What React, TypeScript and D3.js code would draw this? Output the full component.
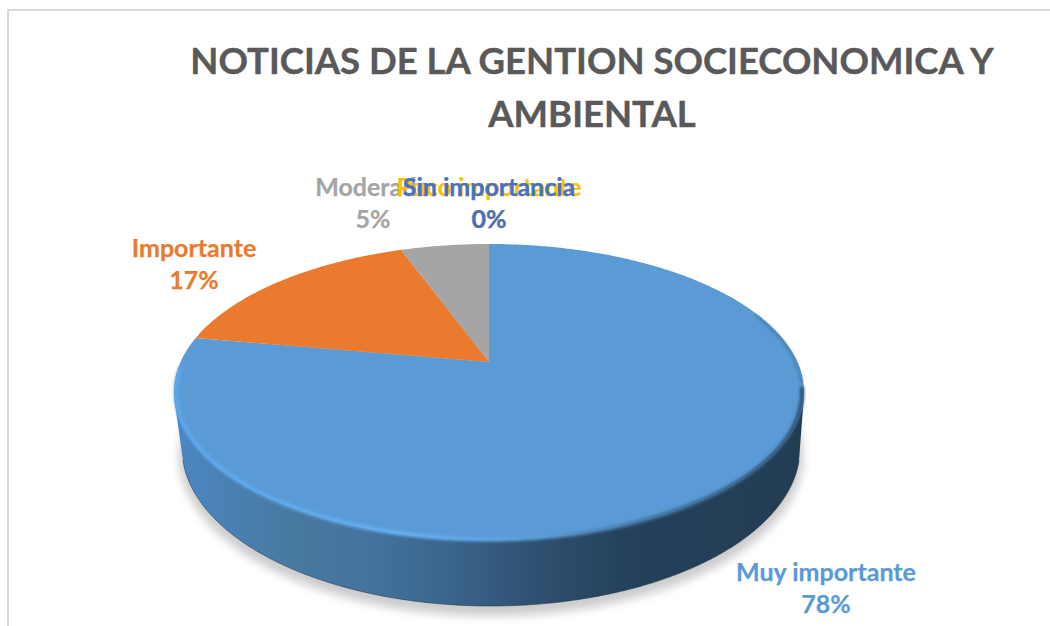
import React from "react";
import * as d3 from "d3";

const categories = ["Muy importante", "Importante", "Moderado", "Poco importante", "Sin importancia"];
const sliceValues = [77.8, 16.7, 5.5, 0, 0];
const percentLabels = ["78%", "17%", "5%", "0%", "0%"];
const sliceColors = ["#5b9bd5", "#ea7b2e", "#a5a5a5", "#ffc000", "#4472c4"];
const titleLines = ["NOTICIAS DE LA GENTION SOCIECONOMICA Y", "AMBIENTAL"];

const W = 1050;
const H = 626;
const FONT = "Lato, 'Open Sans', sans-serif";

// Layout of the tilted disc
const CX = 489;
const TOP_CY = 392;
const TOP_RY = 148;
const APEX_DY = -30;
const PERSPECTIVE = -0.2027;
const X_SCALE = 308.5;
const LOW_CX = 491;
const LOW_CY = 448;
const LOW_RX = 309;
const LOW_RY = 158;

// Label anchor per category (same order as categories)
const labelX = [826, 194, 373, 489, 489];
const labelY = [581, 257, 196, 196, 196];

// Perspective projection of the unit circle (theta clockwise from 12 o'clock)
const project = (theta: number, r = 1): [number, number] => {
  const X = r * Math.sin(theta);
  const Y = -r * Math.cos(theta);
  const d = 1 + PERSPECTIVE * Y;
  return [CX + (X_SCALE * X) / d, TOP_CY + (TOP_RY * Y + APEX_DY) / d];
};

const line = d3.line<[number, number]>().x((p) => p[0]).y((p) => p[1]);

const sample = (a0: number, a1: number, fn: (t: number) => [number, number]) => {
  const n = Math.max(2, Math.ceil(Math.abs(a1 - a0) / 0.01));
  return d3.range(n + 1).map((i) => fn(a0 + ((a1 - a0) * i) / n));
};

const pieGen = d3.pie<number>().sort(null).value((d) => d);
const arcs = pieGen(sliceValues);

const wedgePath = (a0: number, a1: number) =>
  line([project(0, 0), ...sample(a0, a1, (t) => project(t))])! + "Z";

const topEllipse = (t: number): [number, number] => [
  CX + 315 * Math.sin(t),
  TOP_CY - TOP_RY * Math.cos(t),
];
const lowEllipse = (t: number): [number, number] => [
  LOW_CX + LOW_RX * Math.sin(t),
  LOW_CY - LOW_RY * Math.cos(t),
];
const insetEllipse = (t: number): [number, number] => [
  CX + 313 * Math.sin(t),
  TOP_CY + 0.5 - 147 * Math.cos(t),
];

const PI = Math.PI;
const lowerArc = sample(PI / 2 + 0.08, (3 * PI) / 2 - 0.08, lowEllipse);
const sidePath = line([topEllipse(PI / 2 + 0.05), ...lowerArc, topEllipse((3 * PI) / 2 - 0.05)])! + "Z";
const bottomEdge = line(lowerArc)!;
const shadowPath =
  line(
    sample(0, 2 * PI, (t) => [
      LOW_CX + (LOW_RX + 3) * Math.sin(t),
      LOW_CY + 8 - (LOW_RY + 2) * Math.cos(t),
    ])
  )! + "Z";
const frontRim = line(sample((3 * PI) / 2 + 0.18, PI / 2 - 0.04, insetEllipse))!;
const upperRim = line(sample(PI / 2 - 0.06, PI / 2 - 0.55, insetEllipse))!;

const sideStops: [number, string][] = [
  [0, "#4c87c2"],
  [0.2, "#47799f"],
  [0.3, "#44749f"],
  [0.44, "#3a648c"],
  [0.6, "#2d4d6b"],
  [0.74, "#24405a"],
  [1, "#233d52"],
];
const rimStops: [number, string][] = [
  [0, "#5ba8ee"],
  [0.36, "#68b2f4"],
  [0.48, "#62a8e8"],
  [0.58, "#5b9bd5"],
  [0.76, "#3f6f9a"],
  [1, "#2c4f6e"],
];

export default function App() {
  return (
    <svg
      width={W}
      height={H}
      viewBox={`0 0 ${W} ${H}`}
      style={{ position: "fixed", left: 0, top: 0, background: "#fff", display: "block" }}
    >
      <defs>
        <linearGradient id="side" gradientUnits="userSpaceOnUse" x1={174} x2={803} y1={0} y2={0}>
          {sideStops.map(([o, c]) => (
            <stop key={o} offset={o} stopColor={c} />
          ))}
        </linearGradient>
        <linearGradient id="rim" gradientUnits="userSpaceOnUse" x1={174} x2={803} y1={0} y2={0}>
          {rimStops.map(([o, c]) => (
            <stop key={o} offset={o} stopColor={c} />
          ))}
        </linearGradient>
        <filter id="blurShadow" x="-10%" y="-10%" width="120%" height="130%">
          <feGaussianBlur stdDeviation={5} />
        </filter>
        <filter id="blurRim" x="-5%" y="-5%" width="110%" height="110%">
          <feGaussianBlur stdDeviation={1.8} />
        </filter>
      </defs>

      <path d={`M8,626V10H${W}`} fill="none" stroke="#d9d9d9" strokeWidth={2} />

      <text
        fontFamily={FONT}
        fontWeight={700}
        fontSize={36.5}
        fill="#595959"
        stroke="#595959"
        strokeWidth={0.4}
        textAnchor="middle"
      >
        {titleLines.map((t, i) => (
          <tspan key={t} x={592} y={74 + i * 53}>
            {t}
          </tspan>
        ))}
      </text>

      <path d={shadowPath} fill="#000" opacity={0.2} filter="url(#blurShadow)" />
      <path d={sidePath} fill="url(#side)" />
      <path d={bottomEdge} fill="none" stroke="#1f3a52" strokeWidth={1} opacity={0.6} />

      {arcs.map((a, i) =>
        a.endAngle > a.startAngle ? (
          <path key={categories[i]} d={wedgePath(a.startAngle, a.endAngle)} fill={sliceColors[i]} />
        ) : null
      )}

      <path d={frontRim} fill="none" stroke="url(#rim)" strokeWidth={4} filter="url(#blurRim)" />
      <path d={upperRim} fill="none" stroke="#33597a" strokeWidth={1.5} opacity={0.7} filter="url(#blurRim)" />

      {categories.map((c, i) => (
        <text
          key={c}
          fontFamily={FONT}
          fontWeight={700}
          fontSize={25}
          fill={sliceColors[i]}
          stroke={sliceColors[i]}
          strokeWidth={0.25}
          textAnchor="middle"
        >
          <tspan x={labelX[i]} y={labelY[i]}>{c}</tspan>
          <tspan x={labelX[i]} y={labelY[i] + 32}>{percentLabels[i]}</tspan>
        </text>
      ))}
    </svg>
  );
}
